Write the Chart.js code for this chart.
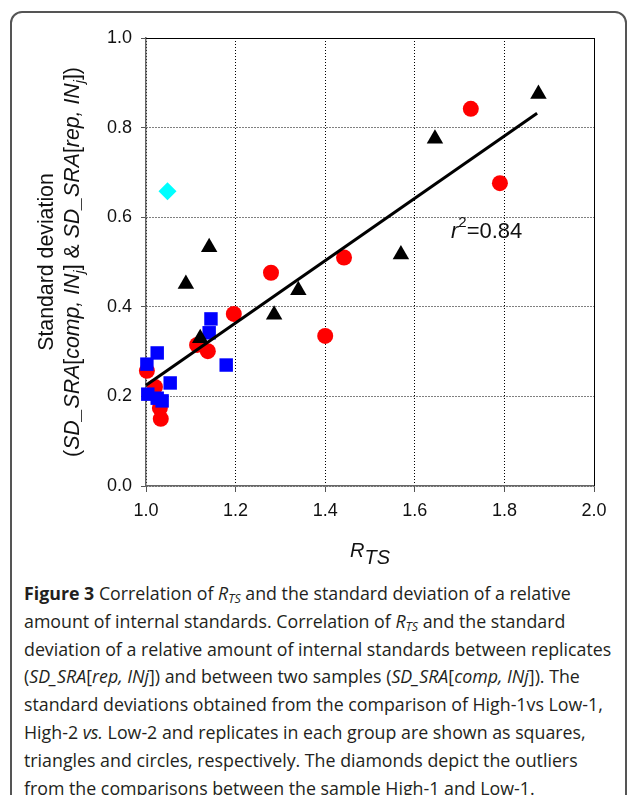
<!DOCTYPE html>
<html>
<head>
<meta charset="utf-8">
<script src="https://cdn.jsdelivr.net/npm/chart.js@4.4.1/dist/chart.umd.min.js"></script>
<style>
html, body { margin: 0; padding: 0; background: #fff; width: 629px; height: 795px; overflow: hidden; }
#frame { position: absolute; left: 10px; top: 11px; width: 617px; height: 820px; box-sizing: border-box;
  border: 2px solid #555; border-radius: 12px; }
#wrap { position: absolute; left: 0; top: 0; width: 629px; height: 580px; }
#caption { position: absolute; left: 24px; top: 580px; white-space: nowrap;
  font-family: "Open Sans", sans-serif; font-size: 17.8px; line-height: 27.8px; color: #231f20; }
#caption sub { font-size: 70%; line-height: 0; vertical-align: -0.25em; }
</style>
</head>
<body>
<div id="frame"></div>
<div id="wrap"><canvas id="chart" width="629" height="580"></canvas></div>
<div id="caption">
<b>Figure 3</b> Correlation of <i>R</i><sub><i>TS</i></sub> and the standard deviation of a relative<br>
amount of internal standards. Correlation of <i>R</i><sub><i>TS</i></sub> and the standard<br>
deviation of a relative amount of internal standards between replicates<br>
(<i>SD_SRA</i>[<i>rep, INj</i>]) and between two samples (<i>SD_SRA</i>[<i>comp, INj</i>]). The<br>
standard deviations obtained from the comparison of High-1vs Low-1,<br>
High-2 <i>vs.</i> Low-2 and replicates in each group are shown as squares,<br>
triangles and circles, respectively. The diamonds depict the outliers<br>
from the comparisons between the sample High-1 and Low-1.
</div>
<script>
// replicates (circles)
const circleX = [1.725, 1.790, 1.442, 1.279, 1.400, 1.196, 1.114, 1.138, 1.002, 1.020, 1.031, 1.033];
const circleY = [0.842, 0.676, 0.510, 0.476, 0.335, 0.384, 0.315, 0.301, 0.257, 0.221, 0.174, 0.150];
// High-2 vs Low-2 (triangles)
const triangleX = [1.876, 1.645, 1.569, 1.141, 1.089, 1.286, 1.340, 1.121];
const triangleY = [0.875, 0.775, 0.517, 0.533, 0.451, 0.382, 0.437, 0.330];
// High-1 vs Low-1 (squares)
const squareX = [1.145, 1.141, 1.025, 1.002, 1.179, 1.054, 1.004, 1.025, 1.036];
const squareY = [0.373, 0.342, 0.297, 0.272, 0.270, 0.230, 0.205, 0.196, 0.190];
// outliers (diamonds)
const diamondX = [1.048];
const diamondY = [0.658];
// regression line
const fitX = [1.0, 1.873];
const fitY = [0.225, 0.832];
const r2Label = '0.84';

const xTickValues = [1.0, 1.2, 1.4, 1.6, 1.8, 2.0];
const yTickValues = [0.0, 0.2, 0.4, 0.6, 0.8, 1.0];

const toPoints = (xs, ys) => xs.map((x, i) => ({ x, y: ys[i] }));

const FONT = '"Liberation Sans", Arial, Helvetica, sans-serif';

// draws a run of mixed-style text centred on x
function richText(ctx, parts, x, y, size) {
    const fontFor = p => {
        const s = p.sub || p.sup ? size * 0.68 : size;
        return (p.it ? 'italic ' : '') + s + 'px ' + FONT;
    };
    let total = 0;
    parts.forEach(p => { ctx.font = fontFor(p); total += ctx.measureText(p.t).width; });
    let cx = x - total / 2;
    parts.forEach(p => {
        ctx.font = fontFor(p);
        let dy = 0;
        if (p.sub) dy = size * 0.25;
        if (p.sup) dy = -size * 0.42;
        ctx.fillText(p.t, cx, y + dy);
        cx += ctx.measureText(p.t).width;
    });
}

const labelsPlugin = {
    id: 'labels',
    afterDraw(chart) {
        const { ctx, chartArea } = chart;
        ctx.save();
        // top and right frame
        ctx.strokeStyle = '#000';
        ctx.lineWidth = 1;
        ctx.beginPath();
        ctx.moveTo(chartArea.left, chartArea.top + 0.5);
        ctx.lineTo(chartArea.right + 0.5, chartArea.top + 0.5);
        ctx.lineTo(chartArea.right + 0.5, chartArea.bottom);
        ctx.stroke();

        ctx.fillStyle = '#111';
        ctx.textAlign = 'left';
        ctx.textBaseline = 'alphabetic';

        // x axis title
        ctx.font = 'italic 20px ' + FONT;
        const rw = ctx.measureText('R').width;
        const tw = ctx.measureText('TS').width;
        const sx = 370 - (rw + tw) / 2;
        ctx.fillText('R', sx, 557);
        ctx.fillText('TS', sx + rw, 564);

        // y axis title
        ctx.save();
        ctx.translate(53, 262);
        ctx.rotate(-Math.PI / 2);
        richText(ctx, [{ t: 'Standard deviation' }], 0, 0, 21.3);
        ctx.restore();
        ctx.save();
        ctx.translate(79, 262);
        ctx.rotate(-Math.PI / 2);
        richText(ctx, [
            { t: '(' }, { t: 'SD_SRA', it: true }, { t: '[' }, { t: 'comp, IN', it: true },
            { t: 'j', it: true, sub: true }, { t: '] & ' }, { t: 'SD_SRA', it: true },
            { t: '[' }, { t: 'rep, IN', it: true }, { t: 'j', it: true, sub: true }, { t: '])' }
        ], 0, 0, 21.3);
        ctx.restore();

        // r^2 annotation
        ctx.font = 'italic 22px ' + FONT;
        ctx.fillText('r', 451, 238);
        const rW = ctx.measureText('r').width;
        ctx.font = '15px ' + FONT;
        ctx.fillText('2', 451 + rW, 227);
        const sW = ctx.measureText('2').width;
        ctx.font = '22px ' + FONT;
        ctx.fillText('=' + r2Label, 451 + rW + sW, 238);
        ctx.restore();
    }
};

const gridOpts = {
    color: '#000',
    lineWidth: 1,
    tickColor: '#555',
    tickBorderDash: []
};

const ctx = document.getElementById('chart').getContext('2d');
new Chart(ctx, {
    type: 'scatter',
    data: {
        datasets: [
            {
                type: 'line',
                data: toPoints(fitX, fitY),
                borderColor: '#000',
                borderWidth: 3,
                pointRadius: 0,
                fill: false,
                clip: false
            },
            {
                data: toPoints(diamondX, diamondY),
                pointStyle: 'rectRot',
                pointRadius: 9,
                backgroundColor: '#00ffff',
                borderWidth: 0,
                clip: false
            },
            {
                data: toPoints(triangleX, triangleY),
                pointStyle: 'triangle',
                pointRadius: 9.5,
                backgroundColor: '#000',
                borderWidth: 0,
                clip: false
            },
            {
                data: toPoints(squareX, squareY),
                pointStyle: 'rect',
                pointRadius: 9.5,
                backgroundColor: '#0000ff',
                borderWidth: 0,
                clip: false
            },
            {
                data: toPoints(circleX, circleY),
                pointStyle: 'circle',
                pointRadius: 8,
                backgroundColor: '#ff0000',
                borderWidth: 0,
                clip: false
            }
        ]
    },
    options: {
        responsive: false,
        animation: false,
        layout: { padding: { left: 0, right: 35, top: 38, bottom: 0 } },
        plugins: { legend: { display: false }, tooltip: { enabled: false } },
        scales: {
            x: {
                type: 'linear',
                min: 1.0,
                max: 2.0,
                afterBuildTicks: scale => { scale.ticks = xTickValues.map(v => ({ value: v })); },
                afterFit: scale => { scale.height = 94; },
                ticks: {
                    callback: v => v.toFixed(1),
                    color: '#111',
                    font: { family: FONT, size: 18 },
                    padding: 8,
                    maxRotation: 0
                },
                grid: { ...gridOpts, tickLength: 6 },
                border: { color: '#666', width: 1.5, dash: [1, 2] }
            },
            y: {
                type: 'linear',
                min: 0.0,
                max: 1.0,
                afterBuildTicks: scale => { scale.ticks = yTickValues.map(v => ({ value: v })); },
                afterFit: scale => { scale.width = 146; },
                ticks: {
                    callback: v => v.toFixed(1),
                    color: '#111',
                    font: { family: FONT, size: 18 },
                    padding: 9
                },
                grid: { ...gridOpts, tickLength: 5 },
                border: { color: '#666', width: 1.5, dash: [1, 2] }
            }
        }
    },
    plugins: [labelsPlugin]
});
</script>
</body>
</html>
